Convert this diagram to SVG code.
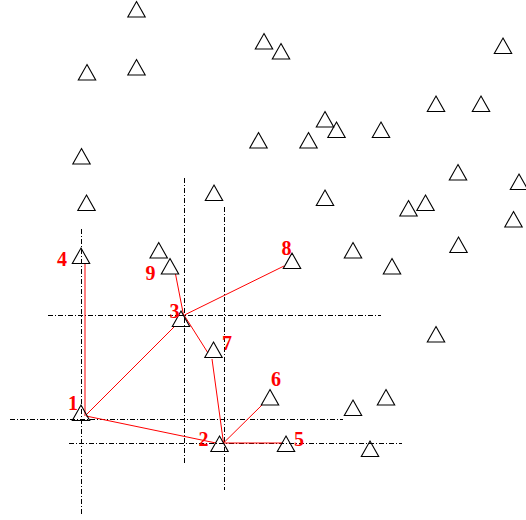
<svg xmlns="http://www.w3.org/2000/svg" xmlns:xlink="http://www.w3.org/1999/xlink" width="526" height="520" viewBox="0 0 526 520">
<style>
.grid{stroke:#000;stroke-width:1;stroke-dasharray:5 2 1 2;fill:none}
.edge{stroke:#ff0000;stroke-width:1;fill:none}
.tri{stroke:#000;stroke-width:1.1;fill:none}
.lbl{font-family:"Liberation Serif","Times New Roman",serif;font-weight:bold;font-size:20px;fill:#ff0000;text-anchor:middle}
</style>
<defs>
<path id="tri" d="M0,0 L8.7,15.5 L-8.7,15.5 Z"/>
</defs>
<rect width="526" height="520" fill="#fff"/>
<g id="guides">
<line class="grid" x1="184.5" y1="178" x2="184.5" y2="464"/>
<line class="grid" x1="224.5" y1="207" x2="224.5" y2="490"/>
<line class="grid" x1="81.5" y1="229" x2="81.5" y2="514"/>
<line class="grid" x1="48" y1="315.5" x2="381" y2="315.5"/>
<line class="grid" x1="10" y1="419.5" x2="343" y2="419.5"/>
<line class="grid" x1="69" y1="443.5" x2="402" y2="443.5"/>
</g>
<g id="connectors">
<line class="edge" x1="85" y1="263" x2="85" y2="416"/>
<line class="edge" x1="86" y1="416" x2="216" y2="443"/>
<line class="edge" x1="86" y1="415" x2="175" y2="326"/>
<line class="edge" x1="175.5" y1="274" x2="183.5" y2="315"/>
<line class="edge" x1="184.5" y1="315" x2="284" y2="266"/>
<line class="edge" x1="184" y1="315" x2="208" y2="353"/>
<line class="edge" x1="212" y1="359" x2="223.5" y2="443"/>
<line class="edge" x1="223.5" y1="443" x2="262" y2="405"/>
<line class="edge" x1="223.5" y1="443" x2="282" y2="443"/>
</g>
<g id="points" class="tri">
<use id="p1" href="#tri" x="136.5" y="1.5"/>
<use id="p2" href="#tri" x="264" y="33.5"/>
<use id="p3" href="#tri" x="281" y="43.5"/>
<use id="p4" href="#tri" x="503" y="38"/>
<use id="p5" href="#tri" x="87" y="64.5"/>
<use id="p6" href="#tri" x="136.5" y="59.5"/>
<use id="p7" href="#tri" x="436" y="96"/>
<use id="p8" href="#tri" x="481" y="96"/>
<use id="p9" href="#tri" x="325" y="111.5"/>
<use id="p10" href="#tri" x="336.5" y="122"/>
<use id="p11" href="#tri" x="381" y="122"/>
<use id="p12" href="#tri" x="258.5" y="132.5"/>
<use id="p13" href="#tri" x="308.5" y="132.5"/>
<use id="p14" href="#tri" x="81.5" y="148.5"/>
<use id="p15" href="#tri" x="458" y="164.5"/>
<use id="p16" href="#tri" x="519" y="174"/>
<use id="p17" href="#tri" x="214" y="185"/>
<use id="p18" href="#tri" x="325" y="190"/>
<use id="p19" href="#tri" x="86.5" y="195"/>
<use id="p20" href="#tri" x="408.5" y="200.5"/>
<use id="p21" href="#tri" x="425.5" y="195"/>
<use id="p22" href="#tri" x="513.5" y="211.5"/>
<use id="p23" href="#tri" x="458.5" y="237"/>
<use id="p24" href="#tri" x="353" y="242.5"/>
<use id="p25" href="#tri" x="392" y="258.5"/>
<use id="p26" href="#tri" x="158.7" y="242.5"/>
<use id="p27" href="#tri" x="436" y="326.5"/>
<use id="p28" href="#tri" x="353" y="400"/>
<use id="p29" href="#tri" x="386" y="389.5"/>
<use id="p30" href="#tri" x="370" y="441"/>
</g>
<g id="node1"><use class="tri" href="#tri" x="81" y="405"/><text class="lbl" x="73" y="410">1</text></g>
<g id="node2"><use class="tri" href="#tri" x="219.5" y="436"/><text class="lbl" x="203.5" y="446">2</text></g>
<g id="node3"><use class="tri" href="#tri" x="181" y="311"/><text class="lbl" x="174.5" y="318">3</text></g>
<g id="node4"><use class="tri" href="#tri" x="81" y="248"/><text class="lbl" x="62" y="266">4</text></g>
<g id="node5"><use class="tri" href="#tri" x="286" y="436"/><text class="lbl" x="299" y="446">5</text></g>
<g id="node6"><use class="tri" href="#tri" x="270" y="389.5"/><text class="lbl" x="276" y="386">6</text></g>
<g id="node7"><use class="tri" href="#tri" x="213.5" y="342"/><text class="lbl" x="227" y="350">7</text></g>
<g id="node8"><use class="tri" href="#tri" x="292" y="253"/><text class="lbl" x="286.5" y="255">8</text></g>
<g id="node9"><use class="tri" href="#tri" x="170" y="258.5"/><text class="lbl" x="150.5" y="280">9</text></g>
</svg>
